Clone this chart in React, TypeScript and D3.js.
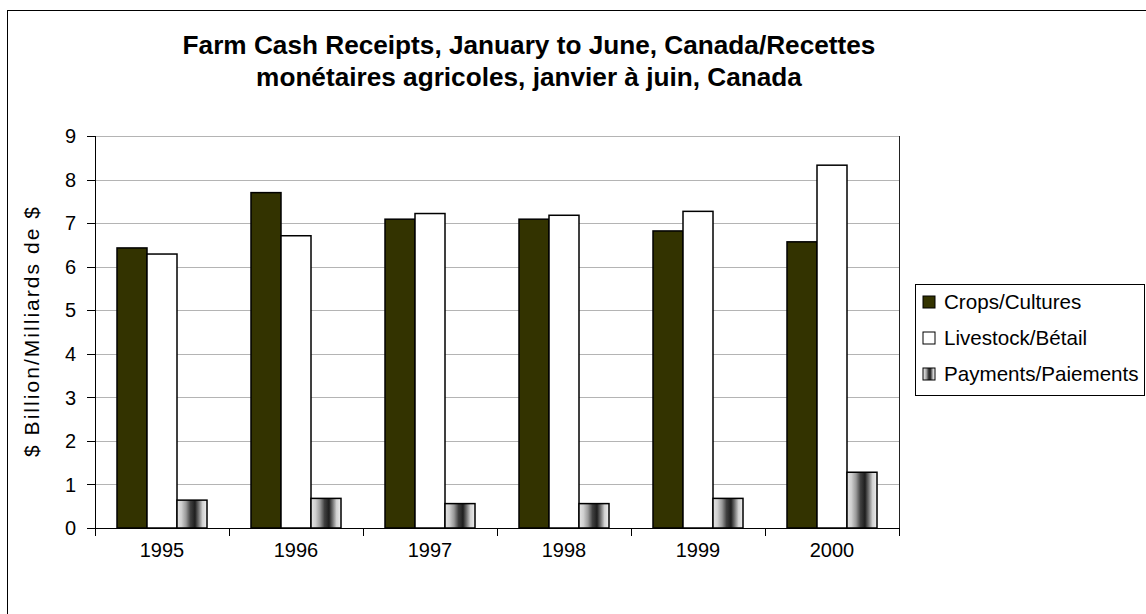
import React from "react";
import * as d3 from "d3";

const years = ["1995", "1996", "1997", "1998", "1999", "2000"];
const seriesNames = ["Crops/Cultures", "Livestock/Bétail", "Payments/Paiements"];
const crops = [6.43, 7.7, 7.09, 7.09, 6.82, 6.57];
const livestock = [6.29, 6.71, 7.22, 7.18, 7.27, 8.33];
const payments = [0.64, 0.68, 0.56, 0.56, 0.68, 1.28];
const yTicks = [0, 1, 2, 3, 4, 5, 6, 7, 8, 9];
const titleLines = [
  "Farm Cash Receipts, January to June, Canada/Recettes",
  "monétaires agricoles, janvier à juin, Canada",
];
const yLabel = "$ Billion/Milliards de $";

const W = 1146;
const H = 614;
const plot = { left: 95, right: 899, top: 136, bottom: 528 };
const FONT = "'Liberation Sans', Arial, sans-serif";

export default function App() {
  const x0 = d3
    .scaleBand<string>()
    .domain(years)
    .range([plot.left, plot.right])
    .paddingInner(44 / 134)
    .paddingOuter(22 / 134);
  const x1 = d3
    .scaleBand<string>()
    .domain(seriesNames)
    .range([0, x0.bandwidth()]);
  const y = d3.scaleLinear().domain([0, 9]).range([plot.bottom, plot.top]);
  const step = x0.step();
  const data = [crops, livestock, payments];
  const fills = ["#333300", "#ffffff", "url(#payGrad)"];

  const boundaries = d3.range(years.length + 1).map((i) => plot.left + i * step);

  return (
    <div style={{ position: "fixed", left: 0, top: 0 }}>
      <svg width={W} height={H} style={{ display: "block", background: "#fff" }}>
        <defs>
          <linearGradient id="payGrad" x1="0" y1="0" x2="1" y2="0">
            <stop offset="0" stopColor="#e6e6e6" />
            <stop offset="0.15" stopColor="#cfcfcf" />
            <stop offset="0.3" stopColor="#9a9a9a" />
            <stop offset="0.45" stopColor="#404040" />
            <stop offset="0.6" stopColor="#1e1e1e" />
            <stop offset="0.72" stopColor="#707070" />
            <stop offset="0.85" stopColor="#d0d0d0" />
            <stop offset="1" stopColor="#f0f0f0" />
          </linearGradient>
        </defs>
        <rect x={7.5} y={10.5} width={W + 10} height={H + 10} fill="#fff" stroke="#000" strokeWidth={1} />

        {titleLines.map((t, i) => (
          <text
            key={i}
            x={529}
            y={54 + i * 32}
            textAnchor="middle"
            fontFamily={FONT}
            fontWeight="bold"
            fontSize={26.2}
            fill="#000"
          >
            {t}
          </text>
        ))}

        {/* gridlines */}
        {yTicks.filter((t) => t > 0).map((t) => (
          <line
            key={t}
            x1={plot.left}
            x2={plot.right}
            y1={Math.round(y(t)) + 0.5}
            y2={Math.round(y(t)) + 0.5}
            stroke="#b4b4b4"
            strokeWidth={1}
          />
        ))}
        <line x1={plot.right + 0.5} x2={plot.right + 0.5} y1={plot.top} y2={plot.bottom} stroke="#222" strokeWidth={1} />

        {/* bars */}
        {data.map((vals, si) =>
          vals.map((v, i) => {
            const xx = (x0(years[i]) as number) + (x1(seriesNames[si]) as number);
            return (
              <rect
                key={si + "-" + i}
                x={xx}
                y={y(v)}
                width={x1.bandwidth()}
                height={plot.bottom - y(v)}
                fill={fills[si]}
                stroke="#000"
                strokeWidth={1.5}
              />
            );
          })
        )}

        {/* axes */}
        <line x1={plot.left + 0.5} x2={plot.left + 0.5} y1={plot.top} y2={plot.bottom + 8} stroke="#000" />
        <line x1={plot.left - 8} x2={plot.right + 1} y1={plot.bottom + 0.5} y2={plot.bottom + 0.5} stroke="#000" />
        {yTicks.map((t) => (
          <g key={t}>
            <line
              x1={plot.left - 8}
              x2={plot.left}
              y1={Math.round(y(t)) + 0.5}
              y2={Math.round(y(t)) + 0.5}
              stroke="#000"
            />
            <text
              x={76}
              y={y(t)}
              dy="0.36em"
              textAnchor="end"
              fontFamily={FONT}
              fontSize={20}
              fill="#000"
            >
              {t}
            </text>
          </g>
        ))}
        {boundaries.map((b, i) => (
          <line key={i} x1={Math.round(b) + 0.5} x2={Math.round(b) + 0.5} y1={plot.bottom} y2={plot.bottom + 8} stroke="#000" />
        ))}
        {years.map((yr) => (
          <text
            key={yr}
            x={(x0(yr) as number) + x0.bandwidth() / 2}
            y={557}
            textAnchor="middle"
            fontFamily={FONT}
            fontSize={20}
            fill="#000"
          >
            {yr}
          </text>
        ))}

        <text
          transform={`translate(31, ${(plot.top + plot.bottom) / 2}) rotate(-90)`}
          textAnchor="middle"
          dy="0.36em"
          fontFamily={FONT}
          fontSize={21}
          textLength={250}
          lengthAdjust="spacing"
          fill="#000"
        >
          {yLabel}
        </text>

        {/* legend */}
        <rect x={915.5} y={284.5} width={229} height={111} fill="#fff" stroke="#000" />
        {seriesNames.map((s, i) => {
          const cy = 302 + i * 36;
          return (
            <g key={s}>
              <rect x={923} y={cy - 6} width={12} height={12} fill={fills[i]} stroke="#000" strokeWidth={1} />
              <text x={944} y={cy} dy="0.36em" fontFamily={FONT} fontSize={20.6} fill="#000">
                {s}
              </text>
            </g>
          );
        })}
      </svg>
    </div>
  );
}
